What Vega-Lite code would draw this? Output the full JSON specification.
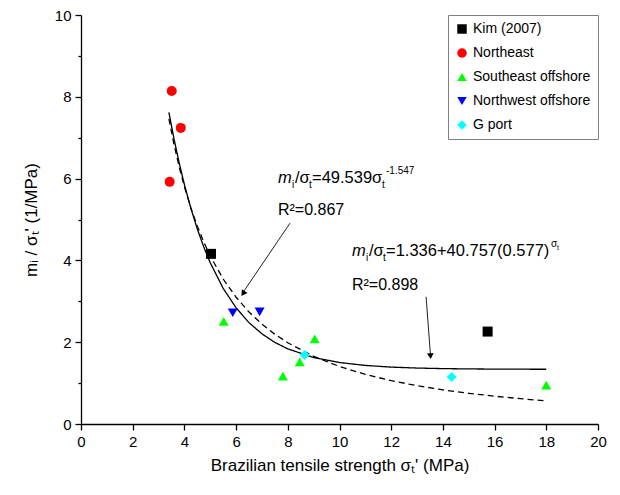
{
  "$schema": "https://vega.github.io/schema/vega-lite/v6.json",
  "width": 517,
  "height": 409,
  "autosize": {"type": "none"},
  "padding": {"left": 81, "top": 15, "right": 22, "bottom": 71},
  "background": "white",
  "config": {
    "view": {"stroke": null},
    "font": "Liberation Sans",
    "axis": {"domainColor": "black", "domainWidth": 1.3, "tickColor": "black", "tickWidth": 1.3, "labelColor": "black", "titleColor": "black", "labelFontSize": 15, "titleFontSize": 17, "titleFontWeight": "normal", "grid": false, "labelFont": "Liberation Sans", "titleFont": "Liberation Sans"},
    "legend": {"orient": "top-right", "offset": 0, "strokeColor": "#808080", "fillColor": "white", "padding": 7, "rowPadding": 10, "labelFontSize": 14, "labelFont": "Liberation Sans", "labelColor": "black", "symbolSize": 90, "symbolStrokeWidth": 0, "labelLimit": 220, "symbolOpacity": 1}
  },
  "datasets": {
    "fits": [
      {"x": 3.4, "y": 7.621, "fit": "exp"}, {"x": 3.6, "y": 6.965, "fit": "exp"}, {"x": 3.8, "y": 6.379, "fit": "exp"}, {"x": 4.0, "y": 5.854, "fit": "exp"}, {"x": 4.25, "y": 5.274, "fit": "exp"}, {"x": 4.5, "y": 4.767, "fit": "exp"}, {"x": 4.75, "y": 4.327, "fit": "exp"}, {"x": 5, "y": 3.942, "fit": "exp"}, {"x": 5.5, "y": 3.316, "fit": "exp"}, {"x": 6, "y": 2.84, "fit": "exp"}, {"x": 6.5, "y": 2.478, "fit": "exp"}, {"x": 7, "y": 2.204, "fit": "exp"}, {"x": 7.5, "y": 1.995, "fit": "exp"}, {"x": 8, "y": 1.837, "fit": "exp"}, {"x": 9, "y": 1.625, "fit": "exp"}, {"x": 10, "y": 1.503, "fit": "exp"}, {"x": 11, "y": 1.432, "fit": "exp"}, {"x": 12, "y": 1.391, "fit": "exp"}, {"x": 13, "y": 1.368, "fit": "exp"}, {"x": 14, "y": 1.354, "fit": "exp"}, {"x": 15, "y": 1.347, "fit": "exp"}, {"x": 16, "y": 1.342, "fit": "exp"}, {"x": 17, "y": 1.34, "fit": "exp"}, {"x": 18, "y": 1.338, "fit": "exp"},
      {"x": 3.4, "y": 7.462, "fit": "power"}, {"x": 3.6, "y": 6.83, "fit": "power"}, {"x": 3.8, "y": 6.282, "fit": "power"}, {"x": 4.0, "y": 5.802, "fit": "power"}, {"x": 4.25, "y": 5.283, "fit": "power"}, {"x": 4.5, "y": 4.836, "fit": "power"}, {"x": 4.75, "y": 4.448, "fit": "power"}, {"x": 5, "y": 4.109, "fit": "power"}, {"x": 5.5, "y": 3.545, "fit": "power"}, {"x": 6, "y": 3.098, "fit": "power"}, {"x": 6.5, "y": 2.737, "fit": "power"}, {"x": 7, "y": 2.441, "fit": "power"}, {"x": 7.5, "y": 2.194, "fit": "power"}, {"x": 8, "y": 1.986, "fit": "power"}, {"x": 9, "y": 1.655, "fit": "power"}, {"x": 10, "y": 1.406, "fit": "power"}, {"x": 11, "y": 1.213, "fit": "power"}, {"x": 12, "y": 1.06, "fit": "power"}, {"x": 13, "y": 0.937, "fit": "power"}, {"x": 14, "y": 0.835, "fit": "power"}, {"x": 15, "y": 0.751, "fit": "power"}, {"x": 16, "y": 0.68, "fit": "power"}, {"x": 17, "y": 0.619, "fit": "power"}, {"x": 18, "y": 0.566, "fit": "power"}
    ],
    "pts": [
      {"x": 5.03, "y": 4.16, "series": "Kim (2007)"},
      {"x": 15.73, "y": 2.26, "series": "Kim (2007)"},
      {"x": 3.51, "y": 8.14, "series": "Northeast"},
      {"x": 3.86, "y": 7.24, "series": "Northeast"},
      {"x": 3.43, "y": 5.92, "series": "Northeast"},
      {"x": 5.52, "y": 2.51, "series": "Southeast offshore"},
      {"x": 7.81, "y": 1.17, "series": "Southeast offshore"},
      {"x": 8.46, "y": 1.52, "series": "Southeast offshore"},
      {"x": 9.04, "y": 2.08, "series": "Southeast offshore"},
      {"x": 18.0, "y": 0.95, "series": "Southeast offshore"},
      {"x": 5.87, "y": 2.72, "series": "Northwest offshore"},
      {"x": 6.91, "y": 2.74, "series": "Northwest offshore"},
      {"x": 8.65, "y": 1.69, "series": "G port"},
      {"x": 14.34, "y": 1.15, "series": "G port"}
    ],
    "arrows": [
      {"x": 8.085, "y": 4.91, "xe": 6.25, "ye": 3.2},
      {"x": 13.35, "y": 3.11, "xe": 13.52, "ye": 1.68}
    ]
  },
  "layer": [
    {
      "data": {"name": "fits"},
      "mark": {"type": "line", "color": "black", "strokeWidth": 1.3},
      "encoding": {
        "x": {"field": "x", "type": "quantitative", "scale": {"domain": [0, 20], "nice": false}, "title": "Brazilian tensile strength σₜ' (MPa)",
          "axis": {"values": [0,1,2,3,4,5,6,7,8,9,10,11,12,13,14,15,16,17,18,19,20], "labelExpr": "datum.value % 2 ? '' : datum.label", "tickSize": {"expr": "datum.value % 2 ? 3 : 6"}, "labelPadding": 4, "titlePadding": 8, "labelFlush": false}},
        "y": {"field": "y", "type": "quantitative", "scale": {"domain": [0, 10], "nice": false}, "title": "mᵢ / σₜ' (1/MPa)",
          "axis": {"values": [0,1,2,3,4,5,6,7,8,9,10], "labelExpr": "datum.value % 2 ? '' : datum.label", "tickSize": {"expr": "datum.value % 2 ? 3 : 6"}, "labelPadding": 4, "titlePadding": 14, "labelFlush": false}},
        "strokeDash": {"field": "fit", "type": "nominal", "scale": {"domain": ["exp", "power"], "range": [[1, 0], [6, 4]]}, "legend": null}
      }
    },
    {
      "data": {"name": "arrows"},
      "mark": {"type": "rule", "color": "#222222", "strokeWidth": 1},
      "encoding": {
        "x": {"field": "x", "type": "quantitative"},
        "y": {"field": "y", "type": "quantitative"},
        "x2": {"field": "xe"},
        "y2": {"field": "ye"}
      }
    },
    {
      "data": {"values": [{"x": 6.27, "y": 3.19}]},
      "mark": {"type": "point", "shape": "triangle-up", "filled": true, "color": "black", "opacity": 1, "size": 45, "angle": 213.5},
      "encoding": {"x": {"field": "x", "type": "quantitative"}, "y": {"field": "y", "type": "quantitative"}}
    },
    {
      "data": {"values": [{"x": 13.52, "y": 1.66}]},
      "mark": {"type": "point", "shape": "triangle-up", "filled": true, "color": "black", "opacity": 1, "size": 45, "angle": 175.8},
      "encoding": {"x": {"field": "x", "type": "quantitative"}, "y": {"field": "y", "type": "quantitative"}}
    },
    {
      "data": {"name": "pts"},
      "mark": {"type": "point", "filled": true, "opacity": 1, "size": 100},
      "encoding": {
        "x": {"field": "x", "type": "quantitative"},
        "y": {"field": "y", "type": "quantitative"},
        "shape": {"field": "series", "type": "nominal", "scale": {"domain": ["Kim (2007)", "Northeast", "Southeast offshore", "Northwest offshore", "G port"], "range": ["square", "circle", "triangle-up", "triangle-down", "diamond"]}, "legend": {"title": null}},
        "color": {"field": "series", "type": "nominal", "scale": {"domain": ["Kim (2007)", "Northeast", "Southeast offshore", "Northwest offshore", "G port"], "range": ["#000000", "#ff0000", "#00ff00", "#0000ff", "#00ffff"]}, "legend": {"title": null}}
      }
    },
    {
      "data": {"values": [{"x": 7.621, "y": 5.892, "t": "m"}, {"x": 10.484, "y": 4.108, "t": "m"}]},
      "mark": {"type": "text", "align": "left", "baseline": "alphabetic", "fontSize": 16.5, "fontStyle": "italic", "font": "Liberation Sans", "color": "black"},
      "encoding": {"x": {"field": "x", "type": "quantitative"}, "y": {"field": "y", "type": "quantitative"}, "text": {"field": "t"}}
    },
    {
      "data": {"values": [{"x": 8.279, "y": 5.892, "t": "/σ"}, {"x": 8.936, "y": 5.892, "t": "=49.539σ"}, {"x": 11.141, "y": 4.108, "t": "/σ"}, {"x": 11.799, "y": 4.108, "t": "=1.336+40.757(0.577)"}]},
      "mark": {"type": "text", "align": "left", "baseline": "alphabetic", "fontSize": 16.5, "font": "Liberation Sans", "color": "black"},
      "encoding": {"x": {"field": "x", "type": "quantitative"}, "y": {"field": "y", "type": "quantitative"}, "text": {"field": "t"}}
    },
    {
      "data": {"values": [{"x": 8.162, "y": 5.77, "t": "i"}, {"x": 8.82, "y": 5.77, "t": "t"}, {"x": 11.644, "y": 5.77, "t": "t"}, {"x": 11.799, "y": 6.112, "t": "-1.547"}, {"x": 11.025, "y": 3.985, "t": "i"}, {"x": 11.683, "y": 3.985, "t": "t"}, {"x": 18.182, "y": 4.328, "t": "σ"}]},
      "mark": {"type": "text", "align": "left", "baseline": "alphabetic", "fontSize": 10, "font": "Liberation Sans", "color": "black"},
      "encoding": {"x": {"field": "x", "type": "quantitative"}, "y": {"field": "y", "type": "quantitative"}, "text": {"field": "t"}}
    },
    {
      "data": {"values": [{"x": 18.414, "y": 4.254, "t": "t"}]},
      "mark": {"type": "text", "align": "left", "baseline": "alphabetic", "fontSize": 7, "font": "Liberation Sans", "color": "black"},
      "encoding": {"x": {"field": "x", "type": "quantitative"}, "y": {"field": "y", "type": "quantitative"}, "text": {"field": "t"}}
    },
    {
      "data": {"values": [{"x": 7.62, "y": 5.23, "t": "R²=0.867"}, {"x": 10.48, "y": 3.4, "t": "R²=0.898"}]},
      "mark": {"type": "text", "align": "left", "baseline": "middle", "fontSize": 16, "font": "Liberation Sans", "color": "black"},
      "encoding": {"x": {"field": "x", "type": "quantitative"}, "y": {"field": "y", "type": "quantitative"}, "text": {"field": "t"}}
    }
  ]
}
